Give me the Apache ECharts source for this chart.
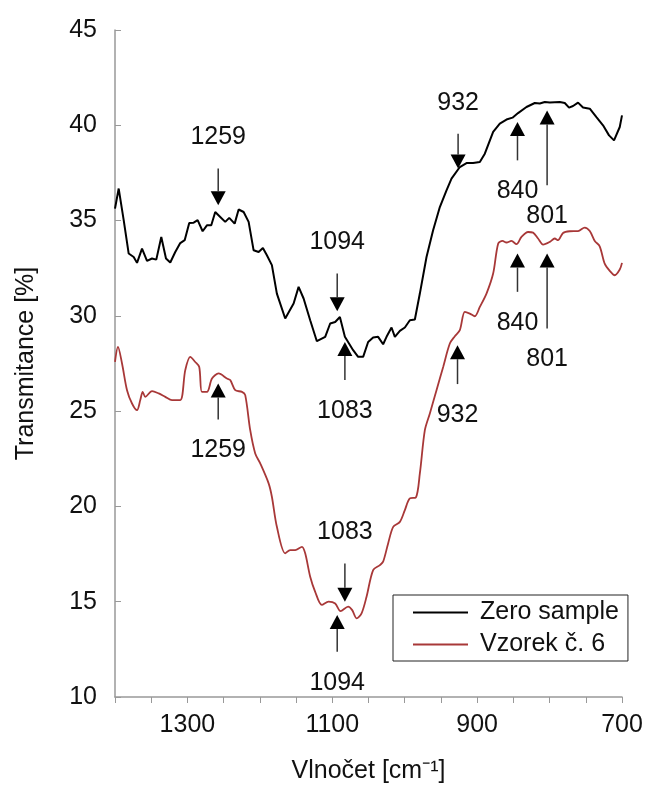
<!DOCTYPE html>
<html>
<head>
<meta charset="utf-8">
<script src="https://cdn.jsdelivr.net/npm/echarts@6/dist/echarts.min.js"></script>
<style>html,body{margin:0;padding:0;background:#fff}#c{width:645px;height:785px}</style>
</head>
<body>
<div id="c"></div>
<script>
const xTickLabels = [1300, 1100, 900, 700];

const zeroX = [1400,1394.9,1388,1381.1,1374.2,1369.6,1362.7,1355.8,1348.9,1343,1336.1,1329.6,1323.7,1316.8,1309.9,1303.8,1297.5,1291.4,1285.9,1279,1273.1,1267.1,1261.6,1254.7,1247.8,1242.3,1234.8,1229.3,1222.4,1215.5,1208.6,1201.7,1195.8,1190.3,1183.4,1176.5,1165,1153.4,1146.5,1139.6,1130.5,1121.3,1109.8,1102.9,1096,1089.5,1082.6,1071.2,1064.3,1057.4,1050.5,1043.6,1036.7,1029.8,1025.1,1018.2,1013.6,1006.7,999.8,992.9,986,979.1,969.9,960.8,951.5,942.3,935.4,923.9,914.7,905.6,896.3,889.4,877.9,868.7,859.5,851.2,843.5,831.9,820.4,813.5,806.6,799.7,785.9,779,773.1,767.6,760.7,753.8,744.5,735.3,726.2,717.9,711,703.1,700];
const zeroY = [35.63,36.68,35.02,33.27,33.09,32.78,33.53,32.88,33.01,32.95,34.14,33.01,32.80,33.35,33.82,33.97,34.87,34.89,35.02,34.44,34.75,34.75,35.45,35.19,34.93,35.14,34.84,35.58,35.45,34.93,33.44,33.35,33.56,33.18,32.66,31.17,29.86,30.65,31.52,30.91,29.77,28.67,28.90,29.60,29.68,29.94,28.90,28.20,27.85,27.85,28.63,28.86,28.90,28.51,28.90,29.39,28.90,29.21,29.39,29.77,29.81,31.17,33.09,34.49,35.71,36.59,37.20,37.81,38.02,38.02,38.07,38.51,39.65,40.09,40.30,40.40,40.64,40.96,41.17,41.14,41.22,41.19,41.22,41.17,40.93,41.01,41.19,40.93,40.87,40.43,40.00,39.47,39.21,39.91,40.52];

const sampleX = [1400,1395.9,1390.3,1383.4,1376.5,1369.6,1365.1,1361.8,1358.2,1348.9,1339.7,1330.6,1321.3,1309.9,1303,1296.1,1289.2,1283.7,1280,1273,1266.1,1256.9,1245.5,1240.9,1234,1224.7,1220.2,1213.3,1206.4,1199.5,1187.9,1183.4,1176.5,1165,1158.1,1151.2,1141.9,1137.4,1130.5,1123.6,1114.4,1105.1,1096,1088.6,1078.1,1072.5,1066.5,1059.6,1052.7,1043.6,1034.3,1029.8,1022.9,1015.9,1006.7,999.8,992.9,984.6,979.1,972.2,965.3,956.1,946.9,937.7,930.8,923.9,917,910.1,903.2,896.3,887.1,877.9,871,865,859.5,852.6,845.7,838.8,829.7,822.8,815.9,808.9,799.7,792.9,788.3,781.4,772.2,760.7,751.5,744.5,737.6,730.8,723.9,716.9,710,703.1,700];
const sampleY = [27.58,28.37,27.50,26.10,25.40,25.05,25.58,26.01,25.75,26.05,25.93,25.75,25.58,25.58,27.15,27.85,27.58,27.32,26.01,26.01,26.71,26.98,26.71,26.63,26.10,26.01,25.84,24.00,22.78,22.26,21.21,20.51,18.93,17.54,17.71,17.71,17.88,17.54,16.31,15.52,14.83,15.00,14.91,14.51,14.74,14.56,14.13,14.39,15.26,16.66,16.92,17.10,18.06,18.93,19.19,19.81,20.42,20.47,21.73,24.00,24.88,26.10,27.32,28.55,28.93,29.25,30.21,30.12,29.98,30.47,31.17,32.22,33.79,33.93,33.85,33.93,33.76,34.14,34.40,34.37,34.06,33.74,33.88,34.06,33.97,34.35,34.44,34.45,34.63,34.45,33.93,33.65,32.74,32.36,32.13,32.43,32.78];

// arrows: [wavenumber, tail value, tip value]
const arrowPos = [
  [1257.5, 37.73, 35.80], [1093.2, 32.22, 30.24], [926.3, 39.56, 37.73],
  [1082.6, 26.63, 28.63], [844.3, 38.16, 40.17], [803.4, 36.85, 40.78],
  [1257.5, 24.56, 26.45], [927.1, 26.42, 28.46], [844.3, 31.26, 33.27],
  [803.4, 29.34, 33.27], [1082.6, 17.01, 15.00], [1093.2, 12.38, 14.30]
];
const arrowLabels = ['1259','1094','932','1083','840','801','1259','932','840','801','1083','1094'];

const FONT = 'Liberation Sans';
const zip = (a, b) => a.map((v, i) => [v, b[i]]);

const chart = echarts.init(document.getElementById('c'));
chart.setOption({
  animation: false,
  backgroundColor: '#fff',
  grid: { left: 115, right: 23, top: 30, bottom: 88, containLabel: false, outerBoundsMode: 'none' },
  xAxis: {
    type: 'value', inverse: true, min: 700, max: 1400, interval: 50,
    name: 'Vlnočet [cm⁻¹]', nameLocation: 'middle', nameGap: 62,
    nameTextStyle: { fontFamily: FONT, fontSize: 25, color: '#111' },
    axisLine: { lineStyle: { color: '#999', width: 1.5 } },
    axisTick: { show: true, inside: false, length: 6, lineStyle: { color: '#999' } },
    axisLabel: {
      fontFamily: FONT, fontSize: 25, color: '#111', margin: 16,
      formatter: v => xTickLabels.includes(v) ? String(v) : ''
    },
    splitLine: { show: false }
  },
  yAxis: {
    type: 'value', min: 10, max: 45, interval: 5,
    name: 'Transmitance [%]', nameLocation: 'middle', nameGap: 76,
    nameTextStyle: { fontFamily: FONT, fontSize: 25, color: '#111' },
    axisLine: { show: true, lineStyle: { color: '#999', width: 1.5 } },
    axisTick: { show: true, inside: true, length: 6, lineStyle: { color: '#999' } },
    axisLabel: { fontFamily: FONT, fontSize: 25, color: '#111', margin: 18 },
    splitLine: { show: false }
  },
  legend: {
    data: ['Zero sample', 'Vzorek č. 6'],
    orient: 'vertical', left: 393, top: 595,
    icon: 'rect', itemWidth: 55, itemHeight: 2,
    padding: [5, 9, 4, 20], itemGap: 7,
    borderColor: '#222', borderWidth: 1, borderRadius: 0, backgroundColor: '#fff',
    textStyle: { fontFamily: FONT, fontSize: 25, color: '#111', padding: [0, 0, 0, 7] }
  },
  series: [
    {
      name: 'Zero sample', type: 'line', symbol: 'none',
      data: zip(zeroX, zeroY),
      lineStyle: { color: '#000', width: 2 }, itemStyle: { color: '#000' }
    },
    {
      name: 'Vzorek č. 6', type: 'line', symbol: 'none', smooth: 0.3,
      data: zip(sampleX, sampleY),
      lineStyle: { color: '#a83838', width: 1.8 }, itemStyle: { color: '#a83838' }
    },
    {
      name: 'arrows', type: 'custom', silent: true, z: 5,
      encode: { x: 0, y: [1, 2] },
      data: arrowPos,
      renderItem: function (params, api) {
        const x = api.value(0), tail = api.value(1), tip = api.value(2);
        const p1 = api.coord([x, tail]);
        const p2 = api.coord([x, tip]);
        const d = p2[1] > p1[1] ? 1 : -1;
        const head = 14, hw = 7.5;
        const baseY = p2[1] - d * head;
        return {
          type: 'group',
          children: [
            { type: 'line', shape: { x1: p1[0], y1: p1[1], x2: p2[0], y2: baseY },
              style: { stroke: '#333', lineWidth: 1.5 } },
            { type: 'polygon', shape: { points: [[p2[0], p2[1]], [p2[0] - hw, baseY], [p2[0] + hw, baseY]] },
              style: { fill: '#000' } },
            { type: 'text', x: p1[0], y: p1[1] - d * 31,
              style: { text: arrowLabels[params.dataIndex], fontFamily: FONT, fontSize: 25,
                       fill: '#111', align: 'center', verticalAlign: 'middle' } }
          ]
        };
      }
    }
  ]
});
</script>
</body>
</html>
